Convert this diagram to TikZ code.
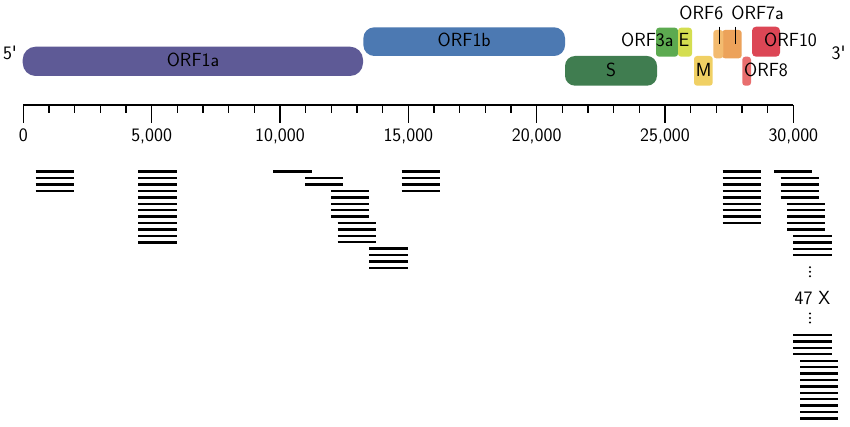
\documentclass[tikz,border=0pt]{standalone}
\usepackage{textcomp}
\definecolor{cOnea}{RGB}{94,90,150}
\definecolor{cOneb}{RGB}{76,121,178}
\definecolor{cS}{RGB}{64,125,80}
\definecolor{cThree}{RGB}{92,170,80}
\definecolor{cE}{RGB}{212,222,80}
\definecolor{cM}{RGB}{240,208,100}
\definecolor{cSix}{RGB}{243,187,112}
\definecolor{cSeven}{RGB}{236,162,90}
\definecolor{cTen}{RGB}{220,70,85}
\definecolor{cEight}{RGB}{232,110,110}
\newcommand\labfont{\fontsize{19}{21}\selectfont\sffamily}
\newcommand\readstack[4]{\foreach \k in {1,...,#4}{\draw[rd] (#1,{#3+(\k-1)*6.42}) -- (#2,{#3+(\k-1)*6.42});}}
\begin{document}
\begin{tikzpicture}[x=1pt,y=-1pt,
  gene/.style={inner sep=0pt, outer sep=0pt, rounded corners=3pt},
  lab/.style={inner sep=0pt, font=\labfont, anchor=base, text=black},
  rd/.style={line width=2.4pt},
  tk/.style={line width=1.2pt},
  lead/.style={line width=1pt},
  dotmark/.style={circle, fill=black, inner sep=0pt, minimum size=2.2pt}]
\useasboundingbox[fill=white] (0,0) rectangle (850,427);

% genes
\node[gene, fill=cOnea, minimum width=340.3pt, minimum height=29.3pt, rounded corners=13pt] (orf1a) at (192.85,61.35) {};
\node[gene, fill=cOneb, minimum width=201.7pt, minimum height=28.7pt, rounded corners=11pt] (orf1b) at (464.2,41.65) {};
\node[gene, fill=cS, minimum width=92pt, minimum height=29.7pt, rounded corners=10pt] (s) at (611,70.85) {};
\node[gene, fill=cThree, minimum width=22pt, minimum height=29pt] (orf3a) at (667,42.2) {};
\node[gene, fill=cE, minimum width=14pt, minimum height=29pt] (e) at (685,42.2) {};
\node[gene, fill=cM, minimum width=18.7pt, minimum height=29.7pt] (m) at (703.35,70.85) {};
\node[gene, fill=cSeven, minimum width=19.7pt, minimum height=28.3pt] (orf7a) at (731.85,44.15) {};
\node[gene, fill=cSix, minimum width=10pt, minimum height=28.3pt] (orf6) at (718.3,44.15) {};
\node[gene, fill=cTen, minimum width=28pt, minimum height=30pt, rounded corners=4pt] (orf10) at (766,41.7) {};
\node[gene, fill=cEight, minimum width=8.7pt, minimum height=29pt] (orf8) at (746.65,71.2) {};

% gene labels
\node[lab] (l1a) at (193,66.7) {ORF1a};
\node[lab] (l1b) at (464.2,46.7) {ORF1b};
\node[lab] (lS) at (611,76.7) {S};
\node[lab] (l3a) at (647.3,46.7) {ORF3a};
\node[lab] (lE) at (684,46.7) {E};
\node[lab] (lM) at (703.6,76.7) {M};
\node[lab] (l8) at (766,76.7) {ORF8};
\node[lab] (l10) at (790.5,46.7) {ORF10};
\node[lab] (l6) at (701.3,19.3) {ORF6};
\node[lab] (l7a) at (757.5,19.3) {ORF7a};
\node[lab] (five) at (10,60) {5\textquotesingle};
\node[lab] (three) at (838.5,60) {3\textquotesingle};

% leader lines
\coordinate (t6) at (719.3,26.7);
\coordinate (t7) at (735,26.7);
\draw[lead] (t6) -- (t6 |- orf6.center);
\draw[lead] (t7) -- (t7 |- orf7a.center);

% axis
\coordinate (a0) at (23.3,105);
\coordinate (a30) at (793.3,105);
\draw[tk] (a0) -- (a30);
\foreach \n in {0,...,30}{
  \draw[tk] ({23.3+\n*25.667},105) -- ({23.3+\n*25.667},113.3);
}
\foreach \n/\t in {0/0,5/{5,000},10/{10,000},15/{15,000},20/{20,000},25/{25,000},30/{30,000}}{
  \draw[tk] ({23.3+\n*25.667},105) -- ({23.3+\n*25.667},122.7);
  \node[lab] (tick\n) at ({23.3+\n*25.667},141.7) {\t};
}

% reads
\readstack{35.7}{74}{171.7}{4}
\readstack{138.3}{176.7}{171.7}{12}
\readstack{273.3}{311.7}{171.7}{1}
\readstack{305}{343.3}{178.1}{2}
\readstack{331}{369.3}{190.9}{5}
\readstack{337.7}{376}{223.0}{4}
\readstack{369.3}{407.7}{248.7}{4}
\readstack{401.7}{440}{171.7}{4}
\readstack{722.7}{761}{171.7}{9}
\readstack{774}{812.3}{171.7}{1}
\readstack{780.7}{819}{178.1}{4}
\readstack{787}{825.3}{203.8}{5}
\readstack{793.3}{831.7}{236}{4}
\readstack{793.3}{831.7}{335}{4}
\readstack{800}{838.3}{360.7}{10}

% ellipsis
\foreach \yy [count=\i] in {267.3,271.8,276.3}{\node[dotmark] (da\i) at (810,\yy) {};}
\node[lab] (cnt) at (812.5,304) {47 X};
\foreach \yy [count=\i] in {313.5,318,322.5}{\node[dotmark] (db\i) at (810,\yy) {};}
\end{tikzpicture}
\end{document}
